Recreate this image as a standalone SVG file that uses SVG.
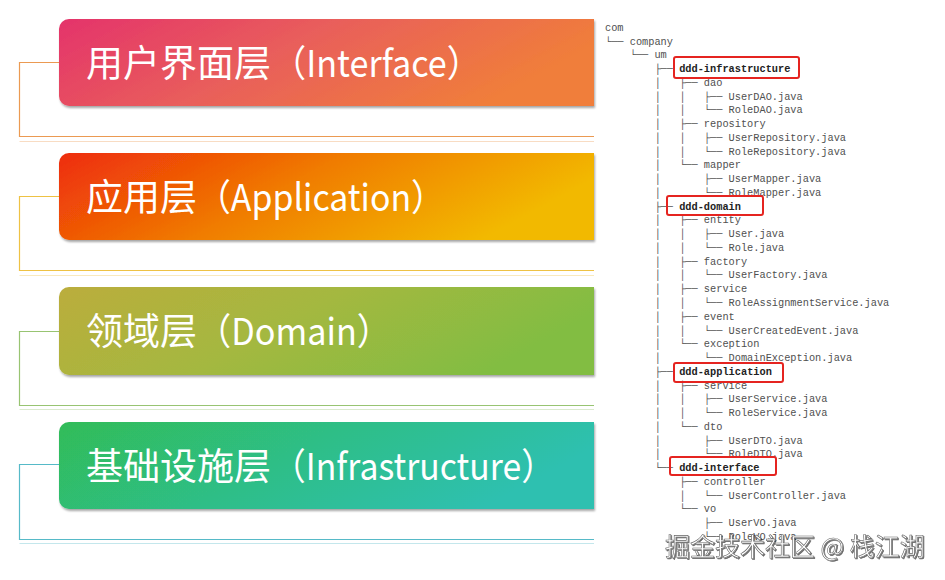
<svg xmlns="http://www.w3.org/2000/svg" width="945" height="580" viewBox="0 0 945 580">
<defs>
<linearGradient id="g1" x1="0" y1="0" x2="1" y2="0.3"><stop offset="0" stop-color="#e4336b"/><stop offset="0.5" stop-color="#e9605a"/><stop offset="1" stop-color="#f07e3a"/></linearGradient>
<linearGradient id="g2" x1="0" y1="0" x2="1" y2="0.3"><stop offset="0" stop-color="#ee2c0a"/><stop offset="0.5" stop-color="#f07c02"/><stop offset="1" stop-color="#f2b901"/></linearGradient>
<linearGradient id="g3" x1="0" y1="0" x2="1" y2="0.3"><stop offset="0" stop-color="#bbad3c"/><stop offset="0.5" stop-color="#a4b840"/><stop offset="1" stop-color="#82bd43"/></linearGradient>
<linearGradient id="g4" x1="0" y1="0" x2="1" y2="0.3"><stop offset="0" stop-color="#30bc58"/><stop offset="0.5" stop-color="#2fbe86"/><stop offset="1" stop-color="#2ec0b0"/></linearGradient>
<filter id="sh" x="-5%" y="-10%" width="110%" height="130%"><feDropShadow dx="1" dy="2" stdDeviation="1.2" flood-color="#000" flood-opacity="0.35"/></filter>
<filter id="wm" x="-5%" y="-20%" width="110%" height="140%"><feDropShadow dx="1" dy="1" stdDeviation="0.6" flood-color="#000" flood-opacity="0.6"/></filter>
</defs>
<style>
.lbl{font-family:"Noto Sans CJK SC","Noto Sans",sans-serif;font-size:37px;fill:#fff}
.br{fill:none;stroke-width:1.2}
.fa{fill:none;stroke-width:1;opacity:0.35}
.t{font-family:"Liberation Mono","DejaVu Sans Mono",monospace;font-size:10.3px;fill:#505050;white-space:pre}
.b{font-weight:bold;fill:#222}
.hl{fill:none;stroke:#e52420;stroke-width:2}
.wm{font-family:"Noto Sans CJK SC",sans-serif;font-size:25px;fill:#fff;stroke:#666;stroke-width:0.6}
</style>
<rect width="945" height="580" fill="#fff"/>
<g id="connectors">
<path class="br" stroke="#eb9a52" d="M59,62.5H19.5V136.5H594"/>
<path class="fa" stroke="#eb9a52" d="M19.5,141.5H594"/>
<path class="br" stroke="#eec244" d="M59,196.5H19.5V270.5H594"/>
<path class="fa" stroke="#eec244" d="M19.5,275.5H594"/>
<path class="br" stroke="#98c472" d="M59,331.5H19.5V405.5H594"/>
<path class="fa" stroke="#98c472" d="M19.5,409.5H594"/>
<path class="br" stroke="#56bac8" d="M59,464.5H19.5V539.5H594"/>
<path class="fa" stroke="#56bac8" d="M19.5,543.5H594"/>
</g>
<g id="panel-interface">
<path d="M69,19H594V106H69A10,10 0 0 1 59,96V29A10,10 0 0 1 69,19Z" fill="url(#g1)" filter="url(#sh)"/>
<text class="lbl" x="86" y="76.5">用户界面层<tspan x="272" textLength="209" lengthAdjust="spacingAndGlyphs">（Interface）</tspan></text>
</g>
<g id="panel-application">
<path d="M69,153H594V240H69A10,10 0 0 1 59,230V163A10,10 0 0 1 69,153Z" fill="url(#g2)" filter="url(#sh)"/>
<text class="lbl" x="86" y="210.5">应用层<tspan x="197" textLength="248" lengthAdjust="spacingAndGlyphs">（Application）</tspan></text>
</g>
<g id="panel-domain">
<path d="M69,287H594V375H69A10,10 0 0 1 59,365V297A10,10 0 0 1 69,287Z" fill="url(#g3)" filter="url(#sh)"/>
<text class="lbl" x="86" y="345">领域层<tspan x="197" textLength="194" lengthAdjust="spacingAndGlyphs">（Domain）</tspan></text>
</g>
<g id="panel-infrastructure">
<path d="M69,422H594V509H69A10,10 0 0 1 59,499V432A10,10 0 0 1 69,422Z" fill="url(#g4)" filter="url(#sh)"/>
<text class="lbl" x="86" y="479.5">基础设施层<tspan x="272" textLength="283" lengthAdjust="spacingAndGlyphs">（Infrastructure）</tspan></text>
</g>
<g id="tree" xml:space="preserve">
<text class="t" x="605" y="30.8">com</text>
<text class="t" x="605" y="44.56">└── company</text>
<text class="t" x="605" y="58.32">    └── um</text>
<text class="t" x="605" y="72.08">        ├── <tspan class="b">ddd-infrastructure</tspan></text>
<text class="t" x="605" y="85.84">        │   ├── dao</text>
<text class="t" x="605" y="99.6">        │   │   ├── UserDAO.java</text>
<text class="t" x="605" y="113.36">        │   │   └── RoleDAO.java</text>
<text class="t" x="605" y="127.12">        │   ├── repository</text>
<text class="t" x="605" y="140.88">        │   │   ├── UserRepository.java</text>
<text class="t" x="605" y="154.64">        │   │   └── RoleRepository.java</text>
<text class="t" x="605" y="168.4">        │   └── mapper</text>
<text class="t" x="605" y="182.16">        │       ├── UserMapper.java</text>
<text class="t" x="605" y="195.92">        │       └── RoleMapper.java</text>
<text class="t" x="605" y="209.68">        ├── <tspan class="b">ddd-domain</tspan></text>
<text class="t" x="605" y="223.44">        │   ├── entity</text>
<text class="t" x="605" y="237.2">        │   │   ├── User.java</text>
<text class="t" x="605" y="250.96">        │   │   └── Role.java</text>
<text class="t" x="605" y="264.72">        │   ├── factory</text>
<text class="t" x="605" y="278.48">        │   │   └── UserFactory.java</text>
<text class="t" x="605" y="292.24">        │   ├── service</text>
<text class="t" x="605" y="306">        │   │   └── RoleAssignmentService.java</text>
<text class="t" x="605" y="319.76">        │   ├── event</text>
<text class="t" x="605" y="333.52">        │   │   └── UserCreatedEvent.java</text>
<text class="t" x="605" y="347.28">        │   └── exception</text>
<text class="t" x="605" y="361.04">        │       └── DomainException.java</text>
<text class="t" x="605" y="374.8">        ├── <tspan class="b">ddd-application</tspan></text>
<text class="t" x="605" y="388.56">        │   ├── service</text>
<text class="t" x="605" y="402.32">        │   │   ├── UserService.java</text>
<text class="t" x="605" y="416.08">        │   │   └── RoleService.java</text>
<text class="t" x="605" y="429.84">        │   └── dto</text>
<text class="t" x="605" y="443.6">        │       ├── UserDTO.java</text>
<text class="t" x="605" y="457.36">        │       └── RoleDTO.java</text>
<text class="t" x="605" y="471.12">        └── <tspan class="b">ddd-interface</tspan></text>
<text class="t" x="605" y="484.88">            ├── controller</text>
<text class="t" x="605" y="498.64">            │   └── UserController.java</text>
<text class="t" x="605" y="512.4">            └── vo</text>
<text class="t" x="605" y="526.16">                ├── UserVO.java</text>
<text class="t" x="605" y="539.92">                └── RoleVO.java</text>
</g>
<g id="highlights">
<rect class="hl" x="674" y="57" width="125" height="21" rx="2"/>
<rect class="hl" x="667" y="196" width="96" height="19" rx="2"/>
<rect class="hl" x="674" y="363" width="109" height="19" rx="2"/>
<rect class="hl" x="670" y="457" width="106" height="18" rx="2"/>
</g>
<g id="watermark">
<text class="wm" x="665" y="556" filter="url(#wm)">掘金技术社区 @ 栈江湖</text>
</g>
</svg>
